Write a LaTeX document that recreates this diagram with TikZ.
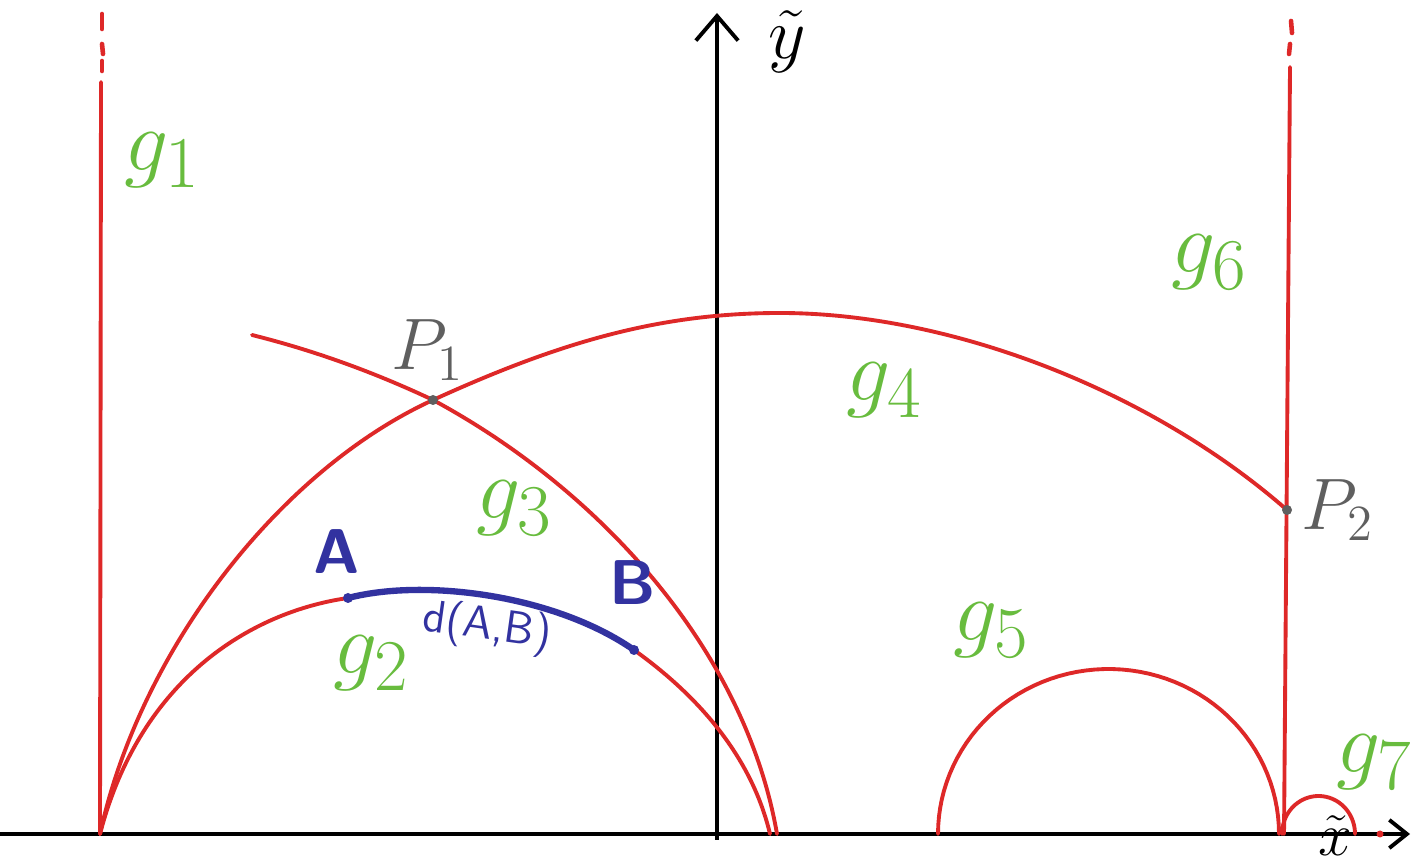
\documentclass[tikz,border=0pt]{standalone}
\usetikzlibrary{arrows.meta}
\definecolor{redc}{RGB}{222,40,40}
\definecolor{greenc}{RGB}{104,188,62}
\definecolor{bluec}{RGB}{50,50,160}
\definecolor{grayc}{RGB}{95,95,95}
\begin{document}
\begin{tikzpicture}[x=0.01cm,y=-0.01cm,
  axis/.style={line width=1.1pt,black},
  geo/.style={line width=1.1pt,redc,line cap=round},
  geodash/.style={line width=1.3pt,redc,line cap=round},
  seg/.style={line width=1.8pt,bluec,line cap=round},
  glabel/.style={text=greenc,font=\fontsize{32}{32}\selectfont,inner sep=0pt},
  plabel/.style={text=grayc,font=\fontsize{21}{21}\selectfont,inner sep=0pt},
  ablabel/.style={text=bluec,font=\sffamily\bfseries\fontsize{18}{18}\selectfont,inner sep=0pt},
  axlabel/.style={text=black,font=\fontsize{21}{21}\selectfont,inner sep=0pt},
]
\useasboundingbox (0,0) rectangle (1422,865);
\fill[white] (0,0) rectangle (1422,865);

% axes
\coordinate (xs) at (0,834);
\coordinate (xe) at (1410,834);
\coordinate (ys) at (717,840);
\coordinate (ye) at (717,13);
\draw[axis,-{Straight Barb[length=5pt,width=8pt,line width=1.1pt]}] (xs) -- (xe);
\draw[axis,-{Straight Barb[length=7pt,width=12pt,line width=1.1pt]}] (ys) -- (ye);
\node[axlabel] (ylab) at (787,42) {$\tilde{y}$};
\node[axlabel,font=\fontsize{19}{19}\selectfont] (xlab) at (1335,836) {$\tilde{x}$};

% g1 vertical line
\coordinate (g1b) at (100,834);
\coordinate (g1t) at (101,82);
\draw[geo] (g1b) -- (g1t);
\coordinate (d1a) at (102,61); \coordinate (d1b) at (102,71);
\coordinate (d2a) at (102,44); \coordinate (d2b) at (103,54);
\coordinate (d3a) at (102,14); \coordinate (d3b) at (102,29);
\draw[geodash] (d1a) -- (d1b);
\draw[geodash] (d2a) -- (d2b);
\draw[geodash] (d3a) -- (d3b);

% g6 vertical line
\coordinate (g6b) at (1284,834);
\coordinate (g6t) at (1290,67);
\draw[geo] (g6b) -- (g6t);
\coordinate (e1a) at (1290,44); \coordinate (e1b) at (1289,54);
\coordinate (e2a) at (1291,21); \coordinate (e2b) at (1292,33);
\draw[geodash] (e1a) -- (e1b);
\draw[geodash] (e2a) -- (e2b);

% key points
\coordinate (O1) at (100,834);
\coordinate (P1) at (433,400);
\coordinate (T4) at (780,313);
\coordinate (P2) at (1287,510);
\coordinate (S3) at (252,335);
\coordinate (E3) at (777,834);
\coordinate (A) at (348,598);
\coordinate (B) at (634,650);
\coordinate (E2) at (770,834);

% g4
\draw[geo] (O1) .. controls (140,650) and (280,470) .. (P1)
                .. controls (560,342) and (660,313) .. (T4)
                .. controls (950,313) and (1150,390) .. (P2);
% g3
\draw[geo] (S3) .. controls (320,352) and (380,375) .. (P1)
                .. controls (600,490) and (745,650) .. (E3);
% g2
\draw[geo] (O1) .. controls (140,680) and (250,612) .. (A)
               .. controls (425,578) and (555,595) .. (B)
               .. controls (690,690) and (750,750) .. (E2);

% g5
\draw[geo] plot[domain=180:360,samples=60] ({1108.5+170.5*cos(\x)},{834+165*sin(\x)});
% g7
\draw[geo] plot[domain=180:360,samples=40] ({1318.5+36.5*cos(\x)},{834+38*sin(\x)});
\fill[redc] (1380,834) circle (3.5);

% segment A-B
\draw[seg] (A) .. controls (425,578) and (555,595) .. (B);
\fill[bluec] (A) circle (5);
\fill[bluec] (B) circle (5);

% points P1, P2
\fill[grayc] (P1) circle (5);
\fill[grayc] (P2) circle (5);

% labels
\node[glabel] (lg1) at (163,160) {$g_1$};
\node[glabel] (lg2) at (372,663) {$g_2$};
\node[glabel] (lg3) at (515,508) {$g_3$};
\node[glabel] (lg4) at (885,390) {$g_4$};
\node[glabel] (lg5) at (992,630) {$g_5$};
\node[glabel] (lg6) at (1210,262) {$g_6$};
\node[glabel] (lg7) at (1375,762) {$g_7$};
\node[plabel] (lP1) at (428,350) {$P_1$};
\node[plabel] (lP2) at (1338,510) {$P_2$};
\node[ablabel] (lA) at (337,552) {A};
\node[ablabel] (lB) at (633,583) {B};
\node[text=bluec,font=\sffamily\fontsize{13}{13}\selectfont,inner sep=0pt,rotate=-8] (lAB) at (487,628) {d(A,B)};
\end{tikzpicture}
\end{document}
